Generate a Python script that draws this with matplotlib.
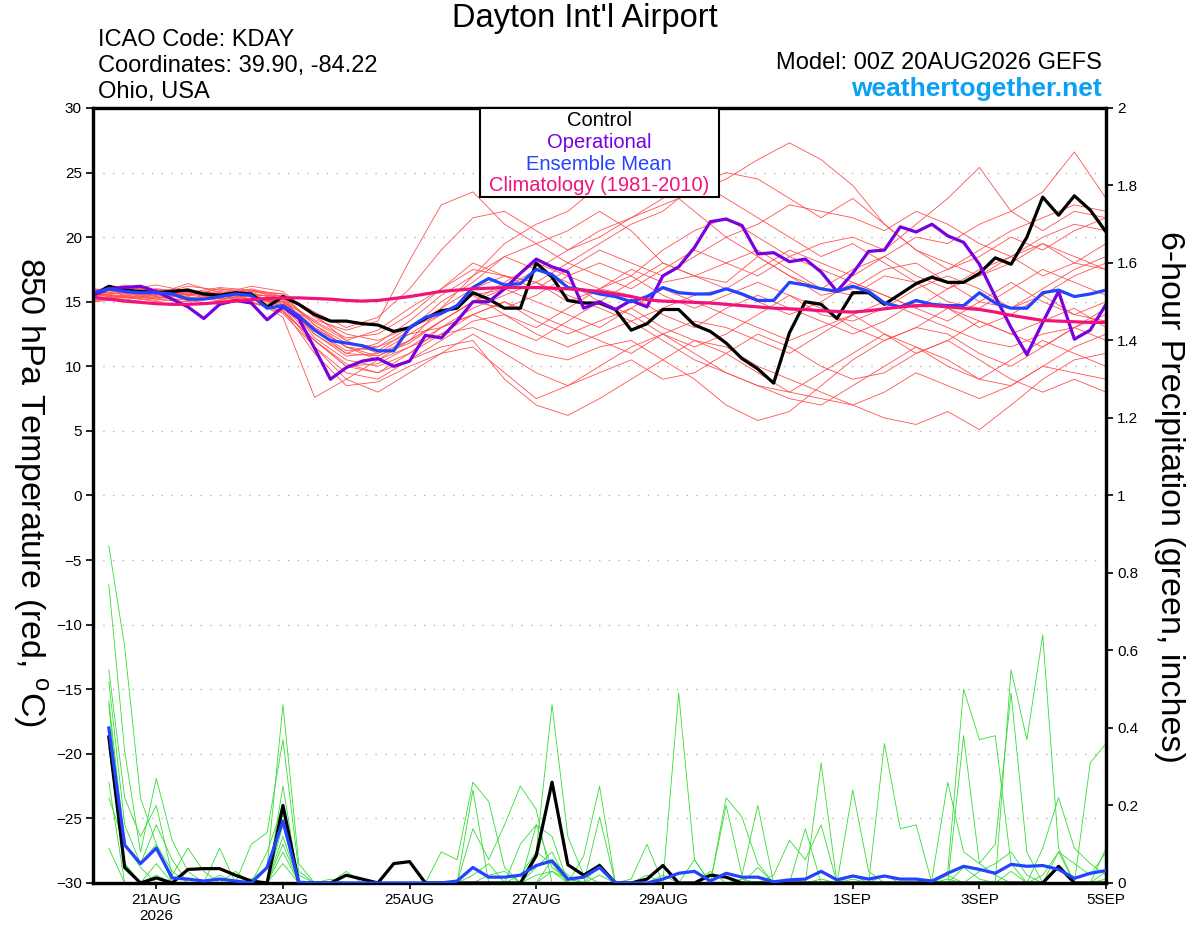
import numpy as np
import matplotlib
matplotlib.use("Agg")
import matplotlib.pyplot as plt
from matplotlib.patches import Rectangle

plt.rcParams['font.family'] = ['Liberation Sans', 'DejaVu Sans']
plt.rcParams['mathtext.fontset'] = 'custom'
plt.rcParams['mathtext.rm'] = 'Liberation Sans'

# 6-hourly times from 00Z 20AUG2026
start = np.datetime64('2026-08-20T00')
times6 = start + np.arange(65) * np.timedelta64(6, 'h')
times12 = start + np.arange(33) * np.timedelta64(12, 'h')
ptimes = times6[1:]

tick_dates = ['2026-08-21', '2026-08-23', '2026-08-25', '2026-08-27',
              '2026-08-29', '2026-09-01', '2026-09-03', '2026-09-05']
tick_labels = ['21AUG\n2026', '23AUG', '25AUG', '27AUG', '29AUG', '1SEP', '3SEP', '5SEP']

# 850 hPa temperature (C)
control = [15.5, 16.2, 15.9, 15.8, 15.7, 15.8, 15.9, 15.6, 15.5, 15.7, 15.6, 14.6, 15.4,
           14.8, 14.0, 13.5, 13.5, 13.3, 13.2, 12.7, 13.0, 13.7, 14.3, 14.5,
           15.7, 15.2, 14.5, 14.5, 18.0, 16.9, 15.1, 14.9, 14.9, 14.4, 12.8, 13.3, 14.4, 14.4,
           13.2, 12.7, 11.8, 10.6, 9.8, 8.7, 12.6, 15.0,
           14.8, 13.7, 15.7, 15.7, 14.8, 15.6, 16.4, 16.9, 16.5, 16.5, 17.2, 18.4, 17.9, 20.0,
           23.1, 21.7, 23.2, 22.1, 20.4]
operational = [15.5, 16.0, 16.1, 16.2, 15.8, 15.2, 14.6, 13.7, 14.8, 15.1, 14.9, 13.6, 14.6,
               13.7, 11.4, 9.0, 9.9, 10.4, 10.6, 10.0, 10.4, 12.4, 12.2, 13.5,
               15.0, 15.0, 16.0, 17.2, 18.3, 17.7, 17.3, 14.5, 15.0, 14.4, 15.1, 14.6, 17.0, 17.7,
               19.2, 21.2, 21.4, 20.9, 18.7, 18.8, 18.1, 18.3,
               17.3, 15.8, 17.2, 18.9, 19.0, 20.8, 20.4, 21.0, 20.1, 19.6, 17.9, 15.4, 13.0, 10.9,
               13.4, 15.8, 12.1, 12.8, 14.8]
ens_mean = [15.7, 16.0, 15.8, 15.7, 15.7, 15.6, 15.2, 15.2, 15.4, 15.6, 15.5, 14.5, 14.7,
            13.9, 12.8, 12.0, 11.8, 11.6, 11.2, 11.2, 13.0, 13.8, 14.1, 14.7,
            16.1, 16.8, 16.3, 16.4, 17.5, 17.1, 16.1, 15.9, 15.6, 15.4, 15.0, 15.4, 16.1, 15.7,
            15.6, 15.6, 16.0, 15.6, 15.1, 15.1, 16.5, 16.3,
            16.0, 15.8, 16.2, 15.8, 14.9, 14.6, 15.1, 14.8, 14.7, 14.7, 15.7, 14.9, 14.5, 14.5,
            15.7, 15.9, 15.4, 15.6, 15.9]
climatology = [15.35, 15.2, 15.05, 14.95, 14.85, 14.8, 14.8, 14.85, 14.95, 15.05, 15.15, 15.25, 15.3,
               15.3, 15.25, 15.2, 15.1, 15.05, 15.1, 15.25, 15.4, 15.6, 15.8, 15.9,
               16.0, 16.05, 16.1, 16.1, 16.1, 16.05, 16.0, 15.9, 15.8, 15.6, 15.4, 15.15, 15.05, 15.0,
               14.95, 14.9, 14.8, 14.7, 14.6, 14.5, 14.45, 14.4,
               14.3, 14.25, 14.2, 14.3, 14.45, 14.6, 14.7, 14.7, 14.6, 14.5, 14.4, 14.2, 13.95, 13.75,
               13.55, 13.5, 13.45, 13.4, 13.4]

# ensemble members, 12-hourly
members = [
    [15.8, 16.0, 15.6, 16.2, 15.9, 15.4, 15.0, 13.6, 12.8, 13.5, 18.2, 22.5, 23.5, 21.0, 19.5, 20.5, 22.0,
     20.5, 18.0, 17.0, 16.5, 18.5, 17.0, 15.5, 16.0, 17.5, 18.0, 16.5, 15.0, 14.5, 16.0, 17.5, 18.5],
    [15.2, 15.6, 15.9, 15.3, 15.1, 15.6, 14.6, 11.5, 9.5, 9.0, 10.5, 11.5, 12.0, 9.0, 7.0, 6.2, 7.5,
     9.0, 10.5, 12.0, 11.0, 9.5, 8.0, 9.5, 11.0, 12.5, 11.5, 10.0, 9.0, 10.5, 12.0, 11.0, 10.0],
    [15.6, 15.9, 16.3, 15.8, 15.5, 15.9, 15.2, 12.5, 11.0, 11.8, 13.5, 15.5, 17.0, 18.5, 17.5, 19.0, 20.5,
     21.5, 22.5, 23.5, 24.5, 26.0, 27.3, 26.0, 24.0, 21.0, 19.0, 18.0, 17.0, 18.5, 19.5, 18.0, 17.5],
    [15.0, 15.4, 15.1, 15.6, 15.3, 15.0, 14.2, 12.0, 10.0, 9.5, 11.0, 12.5, 13.0, 12.0, 11.0, 10.5, 11.5,
     12.0, 10.5, 9.0, 7.0, 5.8, 6.5, 8.5, 10.5, 12.0, 13.0, 12.5, 11.0, 10.0, 11.5, 13.0, 14.0],
    [15.9, 16.2, 15.7, 15.4, 16.0, 15.6, 14.8, 13.0, 11.5, 10.5, 11.5, 13.0, 14.0, 15.0, 13.5, 12.5, 13.5,
     14.5, 13.0, 12.0, 11.5, 10.0, 9.0, 8.0, 7.0, 6.0, 5.5, 6.5, 5.1, 7.0, 9.0, 10.5, 11.0],
    [15.4, 15.8, 15.4, 15.9, 15.6, 16.2, 15.8, 13.8, 12.5, 12.0, 13.0, 14.5, 16.0, 17.0, 16.5, 18.0, 17.0,
     16.0, 17.5, 19.0, 18.0, 17.0, 18.5, 19.5, 20.0, 19.0, 21.0, 23.0, 25.4, 22.0, 20.5, 22.0, 21.5],
    [15.7, 15.3, 15.8, 16.0, 15.2, 15.5, 15.5, 13.2, 11.8, 11.5, 12.5, 14.0, 15.5, 16.0, 17.5, 16.5, 15.0,
     16.5, 18.0, 17.0, 16.0, 17.5, 19.0, 18.0, 17.0, 18.5, 20.0, 19.5, 21.0, 22.0, 23.5, 26.6, 23.0],
    [15.3, 15.5, 16.0, 15.5, 15.8, 15.2, 14.9, 12.8, 11.0, 10.8, 12.0, 14.5, 17.0, 19.5, 21.0, 22.0, 24.0,
     23.5, 24.0, 22.0, 20.0, 18.5, 17.0, 16.0, 15.5, 17.0, 16.5, 15.0, 14.5, 16.0, 17.5, 16.5, 15.5],
    [15.5, 15.7, 15.2, 15.0, 15.4, 15.8, 15.4, 12.2, 10.5, 10.0, 11.0, 13.0, 14.5, 15.5, 16.5, 15.5, 14.5,
     13.5, 14.5, 15.5, 16.0, 15.0, 14.0, 15.0, 16.5, 15.5, 14.5, 13.5, 15.0, 16.5, 15.0, 14.0, 15.0],
    [15.1, 15.3, 15.5, 15.9, 15.0, 15.3, 14.4, 11.0, 8.5, 8.8, 10.0, 11.0, 12.5, 11.0, 9.5, 8.5, 9.5,
     10.5, 9.0, 9.5, 11.0, 12.5, 11.5, 10.0, 9.0, 9.5, 11.0, 12.0, 10.5, 9.0, 8.0, 9.0, 8.0],
    [16.0, 15.8, 15.5, 15.7, 16.1, 15.9, 15.6, 14.0, 12.0, 11.0, 12.0, 13.5, 15.0, 16.5, 18.0, 17.0, 16.0,
     17.0, 19.0, 20.5, 21.5, 20.0, 18.5, 17.5, 16.5, 15.5, 14.5, 16.0, 17.5, 18.5, 17.0, 18.0, 19.5],
    [15.4, 15.0, 15.3, 15.6, 15.5, 15.1, 15.0, 12.5, 10.8, 11.0, 12.5, 13.0, 14.0, 13.0, 12.0, 13.5, 15.0,
     14.0, 12.5, 11.5, 12.5, 14.0, 15.5, 14.5, 13.0, 12.0, 13.0, 14.5, 13.5, 12.5, 13.5, 14.5, 13.0],
    [15.6, 16.1, 15.9, 15.5, 15.7, 15.4, 14.6, 13.5, 12.2, 12.5, 14.0, 16.0, 17.5, 17.0, 16.0, 17.5, 19.0,
     18.0, 17.0, 18.5, 20.0, 21.0, 22.5, 22.0, 21.5, 20.5, 22.0, 21.0, 19.5, 18.5, 20.0, 21.0, 20.5],
    [15.2, 15.4, 15.0, 15.3, 15.6, 15.0, 14.1, 11.5, 9.0, 8.0, 9.5, 11.0, 11.5, 9.5, 7.5, 8.5, 10.0,
     11.5, 12.5, 11.0, 9.5, 8.5, 7.5, 7.0, 8.5, 10.0, 11.5, 10.5, 9.0, 8.5, 10.0, 11.5, 12.5],
    [15.8, 15.6, 16.0, 15.8, 15.3, 15.7, 15.1, 13.0, 11.5, 10.8, 11.8, 13.5, 15.0, 14.5, 15.5, 17.0, 18.0,
     17.0, 15.5, 14.5, 15.5, 16.5, 15.5, 14.0, 13.5, 14.5, 16.0, 17.0, 16.0, 14.5, 15.5, 17.0, 18.0],
    [15.0, 15.2, 15.4, 15.1, 14.8, 15.3, 13.8, 7.6, 9.0, 10.5, 12.0, 13.5, 15.0, 16.0, 15.0, 14.0, 13.0,
     14.5, 16.0, 15.0, 14.0, 13.0, 12.0, 13.0, 14.0, 12.5, 11.0, 12.0, 13.5, 12.5, 11.5, 13.0, 14.5],
    [15.5, 15.9, 15.6, 16.4, 15.7, 15.6, 15.3, 13.2, 11.5, 11.2, 12.8, 15.0, 16.5, 18.5, 19.5, 18.0, 19.5,
     21.0, 22.0, 24.0, 25.0, 24.5, 23.0, 21.5, 23.0, 21.0, 19.0, 17.5, 18.5, 20.0, 19.0, 20.5, 21.5],
    [15.3, 15.1, 15.7, 15.2, 15.5, 14.9, 14.3, 12.0, 10.2, 9.5, 10.5, 12.0, 13.5, 14.0, 12.5, 11.5, 12.5,
     13.5, 12.0, 10.5, 9.5, 8.5, 8.0, 7.5, 7.0, 8.0, 9.5, 8.5, 7.5, 8.5, 10.0, 9.5, 9.0],
    [15.7, 16.3, 15.8, 15.6, 15.4, 16.0, 15.4, 13.4, 12.0, 12.8, 14.5, 16.0, 18.0, 17.0, 16.5, 15.0, 16.0,
     17.5, 16.5, 17.0, 18.0, 19.0, 17.5, 16.0, 17.5, 18.5, 17.0, 16.0, 17.0, 18.0, 19.5, 18.5, 17.5],
    [15.1, 15.5, 15.2, 15.7, 15.2, 15.5, 14.7, 12.0, 10.0, 10.2, 11.5, 12.5, 14.0, 15.0, 14.0, 13.0, 12.0,
     11.0, 12.5, 13.5, 13.0, 12.0, 11.0, 12.5, 14.0, 15.0, 14.0, 13.0, 12.0, 11.5, 12.5, 13.0, 12.0],
    [15.6, 15.4, 15.9, 15.5, 16.0, 15.8, 15.6, 14.2, 13.0, 13.8, 16.0, 19.0, 21.5, 22.0, 20.5, 19.0, 20.0,
     21.5, 23.0, 24.5, 23.0, 21.5, 20.0, 18.5, 19.5, 18.0, 16.5, 17.5, 19.0, 20.5, 21.5, 22.5, 22.0],
    [15.4, 15.7, 15.3, 15.8, 15.6, 15.2, 15.0, 12.8, 11.2, 11.5, 13.0, 14.0, 15.5, 14.0, 13.0, 14.5, 16.0,
     15.5, 14.0, 13.0, 14.5, 15.5, 14.5, 13.5, 12.5, 13.5, 15.0, 14.5, 13.0, 14.0, 15.5, 14.0, 13.5],
]

# 6-hour precipitation (inches), 06Z 20AUG onward
control_precip = [.377, .04, 0, .013, 0, .035, .037, .037, .02, .005, 0, .20, 0, 0, 0, .02,
                  .01, 0, .05, .055, 0, 0, 0, 0, 0, 0, 0, .07, .26, .047, .02, .045,
                  0, 0, .01, .045, 0, 0, .02, .015, 0, 0, 0, 0, 0, 0, 0, 0,
                  0, 0, 0, 0, 0, 0, 0, 0, 0, 0, 0, 0, .043, 0, 0, 0]
mean_precip = [.40, .098, .05, .09, .013, .01, .005, .01, .005, 0, .04, .16, .002, 0, 0, 0,
               0, 0, 0, 0, 0, 0, .005, .04, .015, .015, .02, .045, .057, .01, .015, .04,
               0, 0, 0, .01, .025, .03, .005, .025, .015, .015, .003, .008, .01, .03, .008, .018,
               .01, .018, .01, .01, .005, .025, .043, .035, .025, .048, .043, .045, .035, .012, .025, .032]
member_precip = [
    [.87, .61, .22, .10, .03, 0, 0, .02, 0, .01, .04, .46, .05, 0, 0, 0,
     0, 0, 0, 0, 0, 0, 0, .02, .05, 0, .02, .08, .46, .12, .02, 0,
     0, 0, .02, 0, 0, .06, 0, 0, 0, .04, 0, 0, 0, 0, 0, 0,
     0, .02, 0, 0, 0, .03, .50, .37, .38, .05, 0, .02, .08, 0, 0, .09],
    [.77, .34, .08, .27, .11, .03, 0, 0, 0, .10, .13, .37, .03, 0, 0, .03,
     0, 0, 0, 0, 0, .08, .06, .26, .21, .04, 0, .15, .04, .01, 0, .05,
     0, 0, 0, 0, .49, .06, 0, 0, 0, 0, 0, 0, 0, 0, 0, 0,
     0, 0, 0, 0, 0, 0, .38, .05, .10, .49, .08, 0, 0, 0, .31, .36],
    [.55, .22, .12, .20, .02, .09, .03, 0, .03, 0, 0, .25, 0, 0, 0, 0,
     0, 0, 0, 0, 0, 0, 0, .14, .06, .15, .25, .19, 0, 0, .07, .25,
     0, 0, 0, 0, 0, 0, 0, .22, .17, .05, 0, 0, 0, .31, 0, 0,
     0, 0, 0, 0, 0, 0, 0, 0, 0, .55, .37, .64, .09, 0, 0, 0],
    [.52, .15, .05, .15, .06, 0, 0, .09, 0, 0, .08, .20, 0, 0, 0, 0,
     0, 0, 0, 0, 0, 0, 0, .24, 0, 0, .10, .15, .12, 0, 0, .17,
     0, .01, .10, 0, 0, 0, 0, .20, .02, .20, 0, 0, .14, 0, 0, 0,
     0, .36, .14, .15, 0, 0, 0, 0, 0, 0, 0, 0, 0, 0, 0, 0],
    [.47, .10, .05, .10, 0, 0, 0, 0, 0, 0, 0, .15, 0, 0, .01, 0,
     0, 0, 0, 0, 0, 0, 0, 0, .02, .03, 0, .08, .05, 0, 0, 0,
     0, 0, 0, .02, 0, 0, .03, 0, 0, 0, .02, .11, .06, .15, 0, .24,
     .03, 0, 0, 0, .01, .26, .08, .05, .02, 0, 0, .09, .22, .09, .05, .02],
    [.46, .05, 0, 0, 0, 0, 0, 0, 0, 0, 0, .12, 0, 0, 0, 0,
     0, 0, 0, 0, 0, 0, 0, 0, 0, 0, 0, 0, .03, 0, 0, 0,
     0, 0, 0, 0, 0, 0, 0, 0, 0, 0, 0, 0, 0, 0, 0, 0,
     0, 0, 0, 0, 0, 0, 0, .03, .05, .08, .02, 0, .08, .05, .02, .08],
    [.26, 0, 0, .05, 0, 0, 0, 0, 0, 0, 0, .08, 0, 0, 0, 0,
     0, 0, 0, 0, 0, 0, 0, 0, 0, 0, 0, .02, .03, .01, 0, 0,
     0, 0, 0, 0, 0, 0, 0, 0, .01, 0, 0, 0, 0, .01, 0, .02,
     0, 0, 0, 0, 0, 0, .04, .01, 0, 0, 0, 0, 0, 0, 0, .03],
    [.22, .10, .04, 0, 0, 0, 0, 0, 0, 0, 0, .05, 0, 0, 0, 0,
     0, 0, 0, 0, 0, 0, 0, 0, 0, 0, 0, .04, .08, 0, 0, 0,
     0, 0, 0, 0, 0, 0, 0, 0, 0, 0, 0, 0, 0, 0, 0, 0,
     0, 0, 0, 0, 0, .01, 0, 0, 0, 0, 0, 0, 0, 0, 0, .01],
    [.35, .05, 0, .02, 0, 0, 0, 0, 0, 0, 0, .18, .02, 0, 0, 0,
     0, 0, 0, 0, 0, 0, 0, 0, 0, 0, 0, 0, .06, .02, 0, .02,
     0, 0, 0, 0, 0, 0, 0, 0, 0, 0, 0, 0, 0, 0, 0, 0,
     0, 0, 0, 0, 0, .02, 0, 0, 0, .03, 0, 0, 0, 0, 0, 0],
    [.09, 0, 0, 0, 0, 0, 0, 0, 0, 0, 0, .10, 0, 0, 0, 0,
     0, 0, 0, 0, 0, 0, 0, 0, 0, 0, 0, 0, 0, 0, 0, 0,
     0, 0, 0, 0, 0, 0, 0, 0, 0, 0, 0, 0, 0, 0, 0, .01,
     0, 0, 0, 0, 0, 0, 0, 0, 0, 0, 0, 0, 0, 0, 0, 0],
]

red = "#ff5050"
green = "#33dd33"
purple = "#7a00dd"
blue = "#2244ff"
pink = "#f0147a"

fig = plt.figure(figsize=(12, 9.27), dpi=100)
ax = fig.add_axes([0.0775, 0.0475, 0.8442, 0.836])
ax2 = ax.twinx()

for v in range(-25, 30, 5):
    ax.axhline(v, color="#b4b4b4", lw=1, ls=(0, (1, 6)), zorder=0.5)

for m in members:
    ax.plot(times12, m, color=red, lw=0.6, zorder=1)
ax.plot(times6, control, color="black", lw=2.3, zorder=3)
ax.plot(times6, operational, color=purple, lw=2.3, zorder=3)
ax.plot(times6, ens_mean, color=blue, lw=2.3, zorder=3)
ax.plot(times6, climatology, color=pink, lw=2.3, zorder=3)

for p in member_precip:
    ax2.plot(ptimes, p, color=green, lw=0.6, zorder=1)
ax2.plot(ptimes, control_precip, color="black", lw=2.3, zorder=3)
ax2.plot(ptimes, mean_precip, color=blue, lw=2.3, zorder=3)

ax.set_xlim(times6[0], times6[-1])
ax.set_ylim(-30, 30)
ax2.set_ylim(0, 2)
ax.set_yticks(range(-30, 31, 5))
ax2.set_yticks(np.round(np.arange(0, 2.01, 0.2), 1))
ax2.set_yticklabels(['0', '0.2', '0.4', '0.6', '0.8', '1', '1.2', '1.4', '1.6', '1.8', '2'])
ax.set_xticks([np.datetime64(d) for d in tick_dates])
ax.set_xticklabels(tick_labels)

ax.tick_params(axis='y', direction='out', length=5, width=1.2, labelsize=11, pad=3)
ax.tick_params(axis='x', direction='out', length=4, width=1.2, labelsize=11, pad=3)
ax2.tick_params(axis='y', direction='out', length=5, width=1.2, labelsize=11, pad=3)
for a in (ax, ax2):
    for s in a.spines.values():
        s.set_linewidth(2.3)

fig.text(585 / 1200, 1 - 18 / 927, "Dayton Int'l Airport", ha='center', va='center', fontsize=23.5)
fig.text(98 / 1200, 1 - 40 / 927, "ICAO Code: KDAY", ha='left', va='center', fontsize=17)
fig.text(98 / 1200, 1 - 66 / 927, "Coordinates: 39.90, -84.22", ha='left', va='center', fontsize=17)
fig.text(98 / 1200, 1 - 92 / 927, "Ohio, USA", ha='left', va='center', fontsize=17)
fig.text(1102 / 1200, 1 - 63 / 927, "Model: 00Z 20AUG2026 GEFS", ha='right', va='center', fontsize=17)
fig.text(1102 / 1200, 1 - 89 / 927, "weathertogether.net", ha='right', va='center',
         fontsize=19, fontweight='bold', color="#0aa0f5")

fig.text(30 / 1200, 1 - 492 / 927, "850 hPa Temperature (red, $^{\\mathrm{o}}$C)", rotation=-90,
         ha='center', va='center', fontsize=24.5)
fig.text(1170 / 1200, 1 - 497 / 927, "6-hour Precipitation (green, inches)", rotation=-90,
         ha='center', va='center', fontsize=24.5)

# legend box
fig.patches.append(Rectangle((480 / 1200, 1 - 197 / 927), 239 / 1200, 89 / 927,
                             transform=fig.transFigure, facecolor='white', edgecolor='black',
                             lw=1.5, zorder=5))
leg = [("Control", "black"), ("Operational", purple), ("Ensemble Mean", blue),
       ("Climatology (1981-2010)", pink)]
for k, (txt, col) in enumerate(leg):
    fig.text(599 / 1200, 1 - (121 + 21.5 * k) / 927, txt, color=col, ha='center', va='center',
             fontsize=14.5, zorder=6)

fig.savefig("out.png", dpi=100)
